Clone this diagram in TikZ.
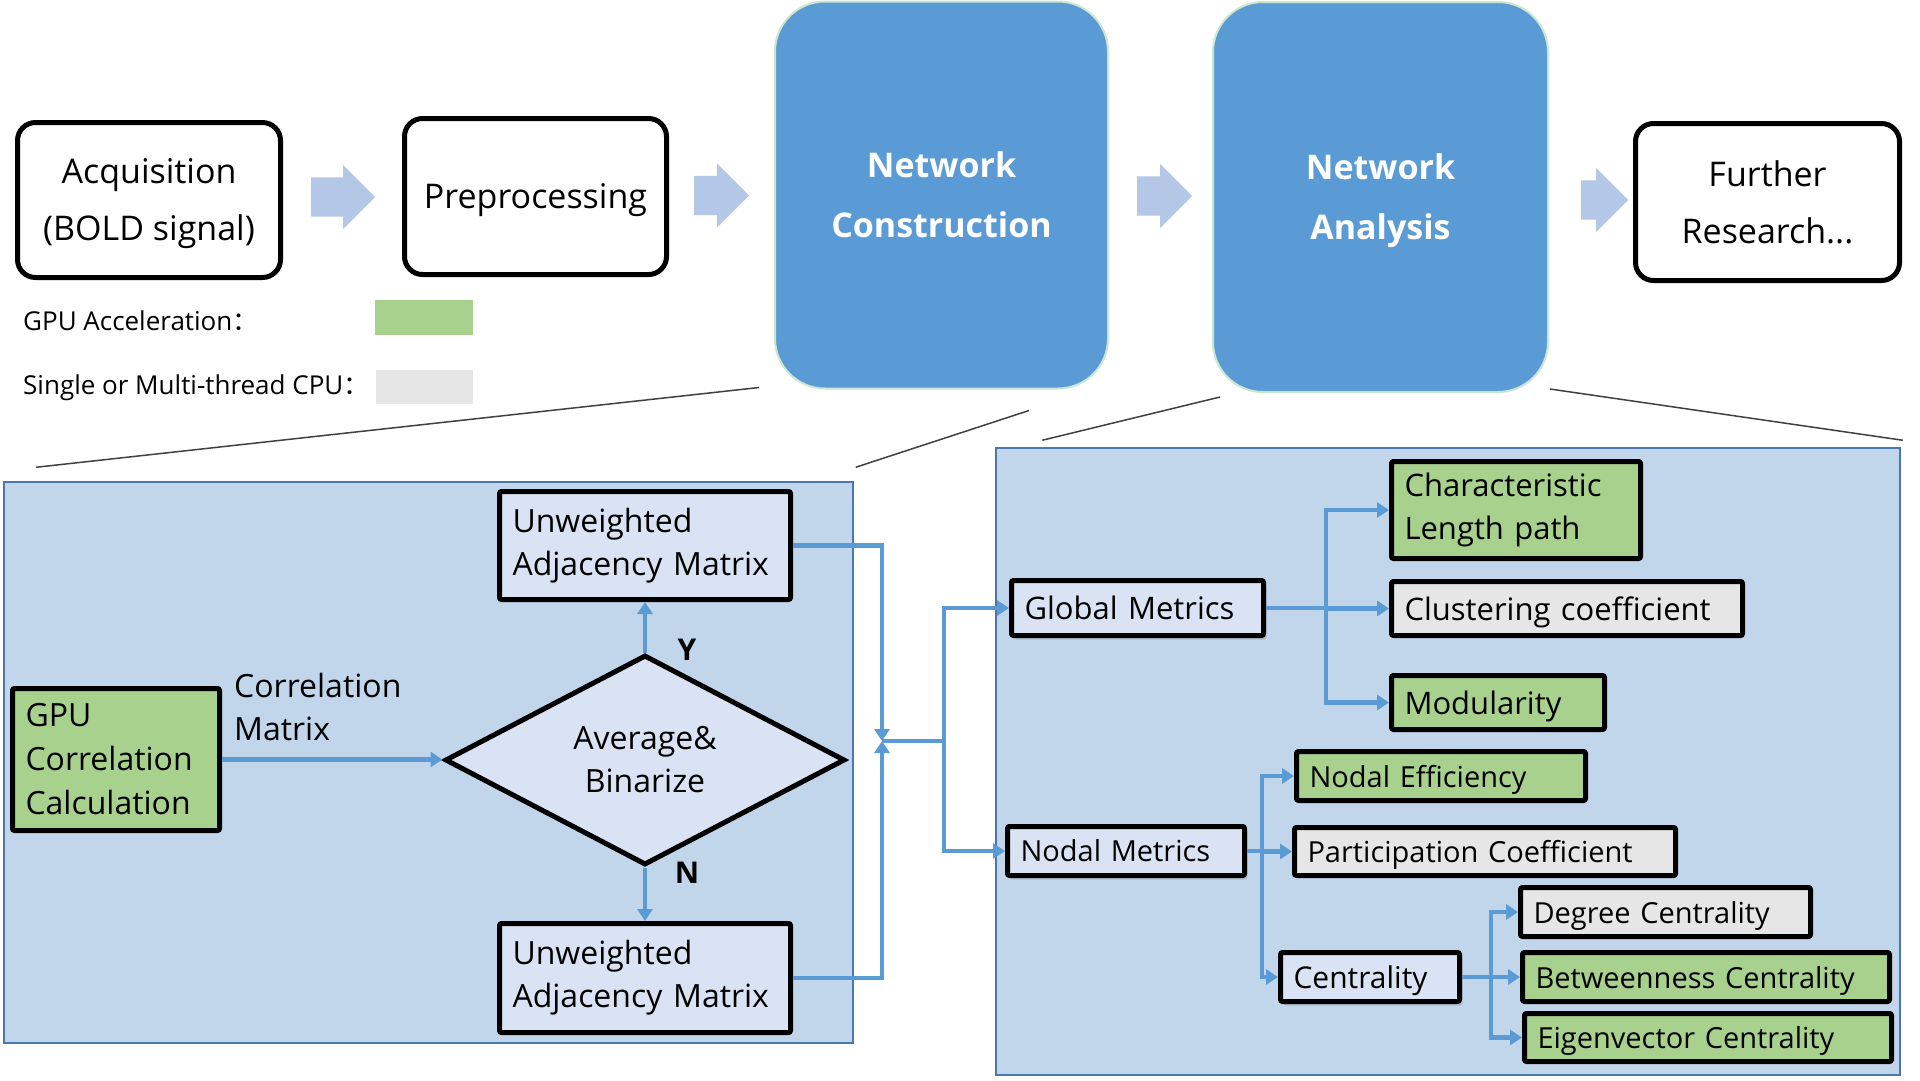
\documentclass[tikz,border=0pt]{standalone}
\usepackage{fontspec}
\setmainfont{Open Sans}
\newfontfamily\cjk{Noto Sans CJK SC}
\usepackage{tikz}
\usetikzlibrary{
  positioning, arrows.meta, shapes.geometric, shapes.arrows, calc, shadows,
}
\definecolor{netBlue}  {HTML}{5B9BD5}
\definecolor{netEdge}  {HTML}{C8E6D0}
\definecolor{arrowBlue}{HTML}{B4C7E7}
\definecolor{panelFill}{HTML}{C2D6EB}
\definecolor{panelEdge}{HTML}{4A78AC}
\definecolor{boxFill}  {HTML}{DAE3F3}
\definecolor{gpuGreen} {HTML}{A9D18E}
\definecolor{cpuGrey}  {HTML}{E7E6E6}
\definecolor{linkBlue} {HTML}{5B9BD5}
\definecolor{zoomLine} {HTML}{404040}

\tikzset{
  stagebox/.style={draw=black, line width=5pt, rounded corners=18pt, fill=white,
    align=center, inner sep=0pt, font=\fontsize{34}{57}\selectfont},
  netbox/.style={draw=netEdge, line width=2pt, rounded corners=50pt, fill=netBlue,
    text=white, align=center, inner sep=0pt, font=\fontsize{34}{60}\selectfont\bfseries},
  blockarrow/.style={single arrow, fill=arrowBlue, anchor=tail,
    single arrow head extend=12.5pt, inner xsep=0pt, inner ysep=19.5pt},
  panel/.style={draw=panelEdge, line width=1.5pt, fill=panelFill, inner sep=0pt},
  mbox/.style={draw=black, line width=5pt, rounded corners=2pt, inner xsep=13pt,
    inner ysep=0pt, align=left},
  flat/.style={text depth=0pt},
  legend/.style={anchor=west, inner sep=0pt, font=\fontsize{26}{30}\selectfont},
  conn/.style={draw=linkBlue, line width=4.5pt, -{Triangle[length=12pt, width=15pt]}},
  link/.style={draw=linkBlue, line width=4.5pt},
  yn/.style={font=\fontsize{30}{30}\selectfont\bfseries, inner sep=0pt},
  shade/.style={drop shadow={shadow xshift=3pt, shadow yshift=-4pt, opacity=0.3}},
}

\begin{document}
\begin{tikzpicture}[x=1pt, y=-1pt]
  \useasboundingbox (0,0) rectangle (1920,1080);

  % pipeline
  \node[stagebox, flat, minimum width=263pt, minimum height=155pt] (acq) at (149,200)
    {Acquisition\\(BOLD signal)};
  \node[stagebox, flat, minimum width=262pt, minimum height=156pt] (prep) at (535.5,196.5)
    {Preprocessing};
  \node[netbox, minimum width=333pt, minimum height=387pt] (netc) at (941.5,195)
    {Network\\Construction};
  \node[netbox, flat, minimum width=335pt, minimum height=390pt] (neta) at (1380.5,197)
    {Network\\Analysis};
  \node[stagebox, minimum width=264pt, minimum height=157pt] (fur) at (1767.5,202)
    {Further\\Research...};
  \foreach \name/\x/\y/\len in {ar1/311/197/64, ar2/694/195.5/55, ar3/1137/196/55, ar4/1581/200/47}{
    \node[blockarrow, minimum height=\len pt] (\name) at (\x,\y) {};
  }

  % legend
  \node[legend] (gpulbl) at (23,321) {GPU Acceleration{\cjk ：}};
  \node[fill=gpuGreen, minimum width=98pt, minimum height=35pt] (gpukey) at (424,317.5) {};
  \node[legend] (cpulbl) at (23,388) {Single or Multi-thread CPU{\cjk ：}};
  \node[fill=cpuGrey, minimum width=97pt, minimum height=34pt] (cpukey) at (424.5,387) {};

  % panels and zoom lines
  \node[panel, minimum width=849pt, minimum height=561pt] (lpanel) at (428.5,762.5) {};
  \node[panel, minimum width=904pt, minimum height=627pt] (rpanel) at (1448,761.5) {};
  \draw[zoomLine, line width=1.5pt] ($(lpanel.north west)+(33,-14)$) -- ($(netc.south west)+(-15,-2)$);
  \draw[zoomLine, line width=1.5pt] ($(lpanel.north east)+(2,-14)$) -- ($(netc.south)+(87.5,21)$);
  \draw[zoomLine, line width=1.5pt] ($(rpanel.north west)+(47,-7)$) -- ($(neta.south west)+(8,4)$);
  \draw[zoomLine, line width=1.5pt] ($(neta.south east)+(1,-4)$) -- ($(rpanel.north east)+(2,-7)$);

  % network construction
  \node[mbox, fill=gpuGreen, text width=181pt, minimum height=142pt,
        font=\fontsize{32}{44}\selectfont] (gpu) at (116,759.5)
    {GPU\\Correlation\\Calculation};
  \node[anchor=west, align=left, inner sep=0pt, font=\fontsize{32}{43}\selectfont]
    (corrlbl) at (234,707) {Correlation\\Matrix};
  \node[diamond, draw=black, line width=5pt, fill=boxFill, aspect=1.9, inner sep=0pt,
        minimum width=400pt, minimum height=210pt, align=center,
        font=\fontsize{32}{43}\selectfont] (avg) at (645,760) {Average\&\\Binarize};
  \node[mbox, fill=boxFill, text width=265pt, minimum height=108pt,
        font=\fontsize{32}{43}\selectfont] (uamy) at (645,545.5)
    {Unweighted\\\mbox{Adjacency Matrix}};
  \node[mbox, fill=boxFill, text width=265pt, minimum height=109pt,
        font=\fontsize{32}{43}\selectfont] (uamn) at (645,978)
    {Unweighted\\\mbox{Adjacency Matrix}};
  \node[yn] (ylbl) at (687,650) {Y};
  \node[yn] (nlbl) at (687,873) {N};
  \draw[conn] (gpu.east) -- (gpu.east -| avg.west);
  \draw[conn] (avg.north) -- (uamy.south);
  \draw[conn] (avg.south) -- (uamn.north);
  \coordinate (merge) at (882,741);
  \coordinate (split) at (944,741);
  \draw[conn] (uamy.east) -| (merge);
  \draw[conn] (uamn.east) -| (merge);
  \draw[link] (merge) -- (split);

  % network analysis
  \node[mbox, shade, fill=boxFill, text width=226pt, minimum height=55pt,
        font=\fontsize{31}{43}\selectfont] (glob) at (1137.5,608) {\mbox{Global Metrics}};
  \node[mbox, fill=gpuGreen, text width=223pt, minimum height=97pt,
        font=\fontsize{31}{43}\selectfont] (cpl) at (1516,510)
    {Characteristic\\\mbox{Length path}};
  \node[mbox, flat, fill=cpuGrey, text width=325pt, minimum height=54pt,
        font=\fontsize{31}{43}\selectfont] (clus) at (1567,608.5) {\mbox{Clustering coefficient}};
  \node[mbox, flat, fill=gpuGreen, text width=187pt, minimum height=54pt,
        font=\fontsize{31}{43}\selectfont] (modu) at (1498,702.5) {Modularity};
  \node[mbox, shade, fill=boxFill, text width=211pt, minimum height=49pt,
        font=\fontsize{29}{40}\selectfont] (nodal) at (1126,851) {\mbox{Nodal Metrics}};
  \node[mbox, flat, fill=gpuGreen, text width=263pt, minimum height=49pt,
        font=\fontsize{29}{40}\selectfont] (neff) at (1441,776) {\mbox{Nodal Efficiency}};
  \node[mbox, flat, fill=cpuGrey, text width=355pt, minimum height=48pt,
        font=\fontsize{29}{40}\selectfont] (part) at (1485,851.5) {\mbox{Participation Coefficient}};
  \node[mbox, flat, shade, fill=boxFill, text width=153pt, minimum height=49pt,
        font=\fontsize{30}{40}\selectfont] (cent) at (1370,977) {Centrality};
  \node[mbox, flat, fill=cpuGrey, text width=264pt, minimum height=49pt,
        font=\fontsize{29}{40}\selectfont] (dcen) at (1665.5,912) {\mbox{Degree Centrality}};
  \node[mbox, flat, fill=gpuGreen, text width=341pt, minimum height=49pt,
        font=\fontsize{29}{40}\selectfont] (bcen) at (1706,977) {\mbox{Betweenness Centrality}};
  \node[mbox, flat, fill=gpuGreen, text width=341pt, minimum height=48pt,
        font=\fontsize{29}{40}\selectfont] (ecen) at (1708,1037.5) {\mbox{Eigenvector Centrality}};

  \draw[conn] (split) |- (glob.west);
  \draw[conn] (split) |- (nodal.west);
  \coordinate (gfork) at ($(glob.east)+(60,0)$);
  \draw[link] (glob.east) -- (gfork);
  \foreach \to in {cpl, clus, modu}{
    \draw[conn] (gfork) |- (\to.west);
  }
  \coordinate (nfork) at ($(nodal.east)+(15,0)$);
  \draw[link] (nodal.east) -- (nfork);
  \foreach \to in {neff, part, cent}{
    \draw[conn] (nfork) |- (\to.west);
  }
  \coordinate (cfork) at ($(cent.east)+(29,0)$);
  \draw[link] (cent.east) -- (cfork);
  \foreach \to in {dcen, bcen, ecen}{
    \draw[conn] (cfork) |- (\to.west);
  }
\end{tikzpicture}
\end{document}
